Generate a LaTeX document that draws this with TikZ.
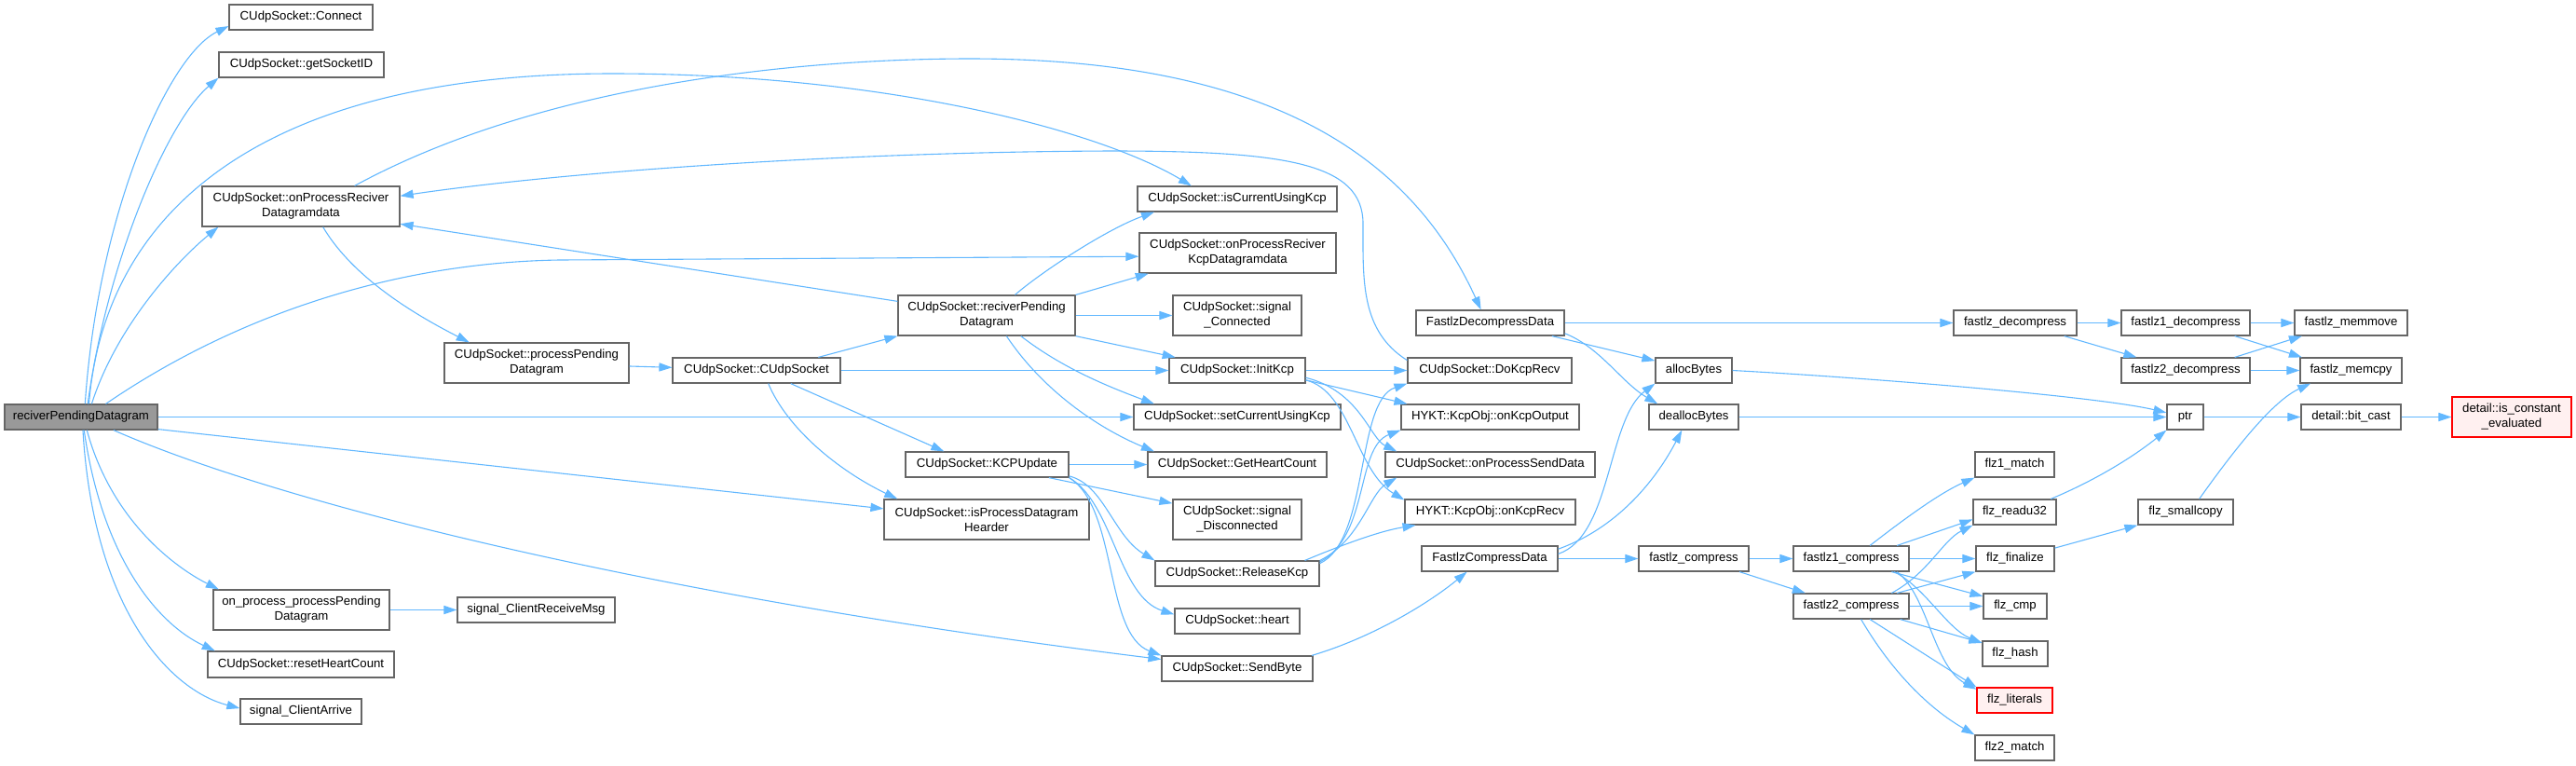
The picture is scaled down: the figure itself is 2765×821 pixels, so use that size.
\documentclass[tikz,border=0pt]{standalone}
\usepackage{fontspec}
\setmainfont{Liberation Sans}
\usetikzlibrary{arrows.meta}
\definecolor{edgeblue}{HTML}{63B8FF}
\definecolor{boxgray}{HTML}{666666}
\definecolor{rootgray}{HTML}{999999}
\definecolor{extred}{HTML}{FF0000}
\definecolor{extfill}{HTML}{FFF0F0}
\begin{document}
\begin{tikzpicture}[
x=0.5pt,
y=-0.5pt,
fn/.style={
draw=boxgray,
fill=white,
line width=0.6pt,
minimum height=13.5pt,
inner sep=0pt,
align=center,
font=\fontsize{6.6}{8}\selectfont
},
fn2/.style={fn, minimum height=21.5pt},
rootfn/.style={fn, fill=rootgray},
redfn/.style={fn, draw=extred, fill=extfill},
edge/.style={
draw=edgeblue,
line width=0.55pt,
-{Triangle[length=7pt,width=4.6pt]}
}
]
\useasboundingbox (0,0) rectangle (2765,821);
\node (root) [rootfn, minimum width=82pt] at (87,447.5) {reciverPendingDatagram};
\node (connect) [fn, minimum width=77pt] at (323,18.5) {CUdpSocket::Connect};
\node (getid) [fn, minimum width=88.5pt] at (323.5,69.5) {CUdpSocket::getSocketID};
\node (onprd) [fn2, minimum width=106pt] at (323,221.5) {CUdpSocket::onProcessReciver\\Datagramdata};
\node (onpp) [fn2, minimum width=94.5pt] at (323.5,654.5) {on\_process\_processPending\\Datagram};
\node (reset) [fn, minimum width=100pt, minimum height=14pt] at (323,713) {CUdpSocket::resetHeartCount};
\node (arrive) [fn, minimum width=65pt] at (323,763.5) {signal\_ClientArrive};
\node (procpd) [fn2, minimum width=99pt] at (576,389.5) {CUdpSocket::processPending\\Datagram};
\node (sigrecv) [fn, minimum width=84.5pt] at (575.5,654.5) {signal\_ClientReceiveMsg};
\node (ctor) [fn, minimum width=90pt] at (812,397.5) {CUdpSocket::CUdpSocket};
\node (recvpd) [fn2, minimum width=95pt] at (1059,338.5) {CUdpSocket::reciverPending\\Datagram};
\node (kcpupd) [fn, minimum width=87.5pt] at (1059.5,498.5) {CUdpSocket::KCPUpdate};
\node (ishdr) [fn2, minimum width=110pt] at (1059,557.5) {CUdpSocket::isProcessDatagram\\Hearder};
\node (iscur) [fn, minimum width=107pt] at (1328,213.5) {CUdpSocket::isCurrentUsingKcp};
\node (onkcpd) [fn2, minimum width=105.5pt] at (1328.5,271.5) {CUdpSocket::onProcessReciver\\KcpDatagramdata};
\node (sigconn) [fn2, minimum width=69pt] at (1328,338.5) {CUdpSocket::signal\\\_Connected};
\node (initkcp) [fn, minimum width=73pt] at (1328,397.5) {CUdpSocket::InitKcp};
\node (setcur) [fn, minimum width=111pt] at (1328,447.5) {CUdpSocket::setCurrentUsingKcp};
\node (getheart) [fn, minimum width=96pt] at (1328,498.5) {CUdpSocket::GetHeartCount};
\node (sigdisc) [fn2, minimum width=69pt] at (1328,557.5) {CUdpSocket::signal\\\_Disconnected};
\node (relkcp) [fn, minimum width=88pt] at (1328,615.5) {CUdpSocket::ReleaseKcp};
\node (heart) [fn, minimum width=67pt] at (1328,666.5) {CUdpSocket::heart};
\node (sendbyte) [fn, minimum width=81pt] at (1328,717.5) {CUdpSocket::SendByte};
\node (fdecomp) [fn, minimum width=79.5pt] at (1599.5,346.5) {FastlzDecompressData};
\node (dorecv) [fn, minimum width=88pt] at (1599,397.5) {CUdpSocket::DoKcpRecv};
\node (onkout) [fn, minimum width=95.5pt] at (1599.5,447.5) {HYKT::KcpObj::onKcpOutput};
\node (onsend) [fn, minimum width=112.5pt] at (1599.5,498.5) {CUdpSocket::onProcessSendData};
\node (onkrecv) [fn, minimum width=91.5pt] at (1599.5,549.5) {HYKT::KcpObj::onKcpRecv};
\node (fcomp) [fn, minimum width=73pt] at (1599,599.5) {FastlzCompressData};
\node (alloc) [fn, minimum width=41pt] at (1818,397.5) {allocBytes};
\node (dealloc) [fn, minimum width=48pt] at (1818,447.5) {deallocBytes};
\node (fzc) [fn, minimum width=59pt] at (1818,599.5) {fastlz\_compress};
\node (fz1c) [fn, minimum width=62pt] at (1987,599.5) {fastlz1\_compress};
\node (fz2c) [fn, minimum width=62pt] at (1987,650.5) {fastlz2\_compress};
\node (fzd) [fn, minimum width=66pt] at (2163,346.5) {fastlz\_decompress};
\node (fz1d) [fn, minimum width=69pt] at (2346,346.5) {fastlz1\_decompress};
\node (fz2d) [fn, minimum width=69pt] at (2346,397.5) {fastlz2\_decompress};
\node (memmove) [fn, minimum width=60.5pt] at (2523.5,346.5) {fastlz\_memmove};
\node (memcpy) [fn, minimum width=54.5pt] at (2523.5,397.5) {fastlz\_memcpy};
\node (ptr) [fn, minimum width=19.5pt] at (2345.5,447.5) {ptr};
\node (bitcast) [fn, minimum width=53.5pt] at (2523.5,447.5) {detail::bit\_cast};
\node (iscons) [redfn, minimum width=64pt, minimum height=21.5pt] at (2696,447.5) {detail::is\_constant\\\_evaluated};
\node (flz1m) [fn, minimum width=42.5pt] at (2162.5,498.5) {flz1\_match};
\node (readu32) [fn, minimum width=44.5pt] at (2162.5,549.5) {flz\_readu32};
\node (smallcopy) [fn, minimum width=51pt] at (2346,549.5) {flz\_smallcopy};
\node (finalize) [fn, minimum width=42pt] at (2163,599.5) {flz\_finalize};
\node (cmp) [fn, minimum width=34pt] at (2163,650.5) {flz\_cmp};
\node (hash) [fn, minimum width=35pt] at (2163,701.5) {flz\_hash};
\node (literals) [redfn, minimum width=40.5pt] at (2162.5,751.5) {flz\_literals};
\node (flz2m) [fn, minimum width=42.5pt] at (2162.5,802.5) {flz2\_match};
\draw[edge] (root.73) .. controls (105,230) and (180,60) .. (connect.187);
\draw[edge] (root.63) .. controls (115,280) and (180,130) .. (getid.189);
\draw[edge] (root.51) .. controls (125,350) and (190,280) .. (onprd.194);
\draw[edge] (root.59) .. controls (110,250) and (250,79) .. (657,79) .. controls (950,79) and (1180,140) .. (iscur.164);
\draw[edge] (root.28) .. controls (250,340) and (420,282) .. (600,279) -- (onkcpd.182);
\draw[edge] (root.east) -- (setcur.west);
\draw[edge] (root.-9) -- (ishdr.174);
\draw[edge] (root.-22) .. controls (300,540) and (700,640) .. (sendbyte.173);
\draw[edge] (root.-66) .. controls (120,560) and (190,610) .. (onpp.166);
\draw[edge] (root.-77) .. controls (110,600) and (170,670) .. (reset.171);
\draw[edge] (root.-82) .. controls (100,650) and (180,740) .. (arrive.177);
\draw[edge] (onpp.east) -- (sigrecv.west);
\draw[edge] (onprd.-43) .. controls (380,300) and (450,340) .. (procpd.163);
\draw[edge] (onprd.21) .. controls (600,80) and (900,63) .. (1041,63) .. controls (1380,63) and (1520,180) .. (fdecomp.125);
\draw[edge] (procpd.-2) -- (ctor.178);
\draw[edge] (ctor.12) -- (recvpd.south west);
\draw[edge] (ctor.east) -- (initkcp.west);
\draw[edge] (ctor.-21) -- (kcpupd.163);
\draw[edge] (ctor.-48) .. controls (845,460) and (900,505) .. (ishdr.167);
\draw[edge] (recvpd.171) -- (onprd.-10);
\draw[edge] (recvpd.36) .. controls (1120,290) and (1190,245) .. (iscur.189);
\draw[edge] (recvpd.13) -- (onkcpd.193);
\draw[edge] (recvpd.east) -- (sigconn.west);
\draw[edge] (recvpd.south east) -- (initkcp.168);
\draw[edge] (recvpd.-31) .. controls (1140,395) and (1190,415) .. (setcur.171);
\draw[edge] (recvpd.-46) .. controls (1120,420) and (1180,460) .. (getheart.171);
\draw[edge] (initkcp.east) -- (dorecv.west);
\draw[edge] (initkcp.-8) -- (onkout.171);
\draw[edge] (initkcp.-6) .. controls (1460,420) and (1470,470) .. (onsend.172);
\draw[edge] (initkcp.-8) .. controls (1450,420) and (1455,505) .. (onkrecv.172);
\draw[edge] (kcpupd.east) -- (getheart.west);
\draw[edge] (kcpupd.-12) -- (sigdisc.166);
\draw[edge] (kcpupd.-8) .. controls (1185,520) and (1195,575) .. (relkcp.north west);
\draw[edge] (kcpupd.south east) .. controls (1195,540) and (1200,640) .. (heart.174);
\draw[edge] (kcpupd.south east) .. controls (1200,545) and (1185,680) .. (sendbyte.north west);
\draw[edge] (relkcp.7) .. controls (1470,580) and (1455,430) .. (dorecv.south west);
\draw[edge] (relkcp.8) .. controls (1470,575) and (1455,480) .. (onkout.south west);
\draw[edge] (relkcp.9) .. controls (1460,580) and (1470,530) .. (onsend.188);
\draw[edge] (relkcp.11) .. controls (1440,585) and (1480,570) .. (onkrecv.190);
\draw[edge] (dorecv.173) .. controls (1460,355) and (1463,300) .. (1463,240) .. controls (1463,175) and (1380,162) .. (1193,162) .. controls (900,163) and (600,185) .. (onprd.6);
\draw[edge] (sendbyte.10) .. controls (1470,685) and (1530,650) .. (fcomp.210);
\draw[edge] (fdecomp.east) -- (fzd.west);
\draw[edge] (fdecomp.-12) -- (alloc.166);
\draw[edge] (fdecomp.-8) .. controls (1718,373) and (1740,410) .. (dealloc.160);
\draw[edge] (fcomp.4) .. controls (1730,575) and (1725,450) .. (alloc.south west);
\draw[edge] (fcomp.8) .. controls (1740,565) and (1780,510) .. (dealloc.228);
\draw[edge] (fcomp.east) -- (fzc.west);
\draw[edge] (alloc.east) .. controls (2000,405) and (2250,425) .. (ptr.167);
\draw[edge] (dealloc.east) -- (ptr.west);
\draw[edge] (ptr.east) -- (bitcast.west);
\draw[edge] (bitcast.east) -- (iscons.west);
\draw[edge] (fzd.east) -- (fz1d.west);
\draw[edge] (fzd.-15) -- (fz2d.165);
\draw[edge] (fz1d.east) -- (memmove.west);
\draw[edge] (fz1d.-15) -- (memcpy.165);
\draw[edge] (fz2d.15) -- (memmove.195);
\draw[edge] (fz2d.east) -- (memcpy.west);
\draw[edge] (fzc.east) -- (fz1c.west);
\draw[edge] (fzc.-16) -- (fz2c.164);
\draw[edge] (fz1c.35) .. controls (2040,560) and (2080,530) .. (flz1m.south west);
\draw[edge] (fz1c.16) -- (readu32.190);
\draw[edge] (fz1c.east) -- (finalize.west);
\draw[edge] (fz1c.-18) -- (cmp.163);
\draw[edge] (fz1c.-17) .. controls (2066,630) and (2090,675) .. (hash.162);
\draw[edge] (fz1c.-16) .. controls (2070,640) and (2075,715) .. (literals.164);
\draw[edge] (fz2c.18) .. controls (2070,615) and (2085,580) .. (readu32.south west);
\draw[edge] (fz2c.16) -- (finalize.south west);
\draw[edge] (fz2c.east) -- (cmp.west);
\draw[edge] (fz2c.-15) -- (hash.162);
\draw[edge] (fz2c.-35) -- (literals.north west);
\draw[edge] (fz2c.-53) .. controls (2030,720) and (2070,760) .. (flz2m.north west);
\draw[edge] (readu32.20) .. controls (2250,515) and (2290,490) .. (ptr.south west);
\draw[edge] (finalize.15) -- (smallcopy.south west);
\draw[edge] (smallcopy.44) .. controls (2400,480) and (2440,430) .. (memcpy.198);
\end{tikzpicture}
\end{document}
